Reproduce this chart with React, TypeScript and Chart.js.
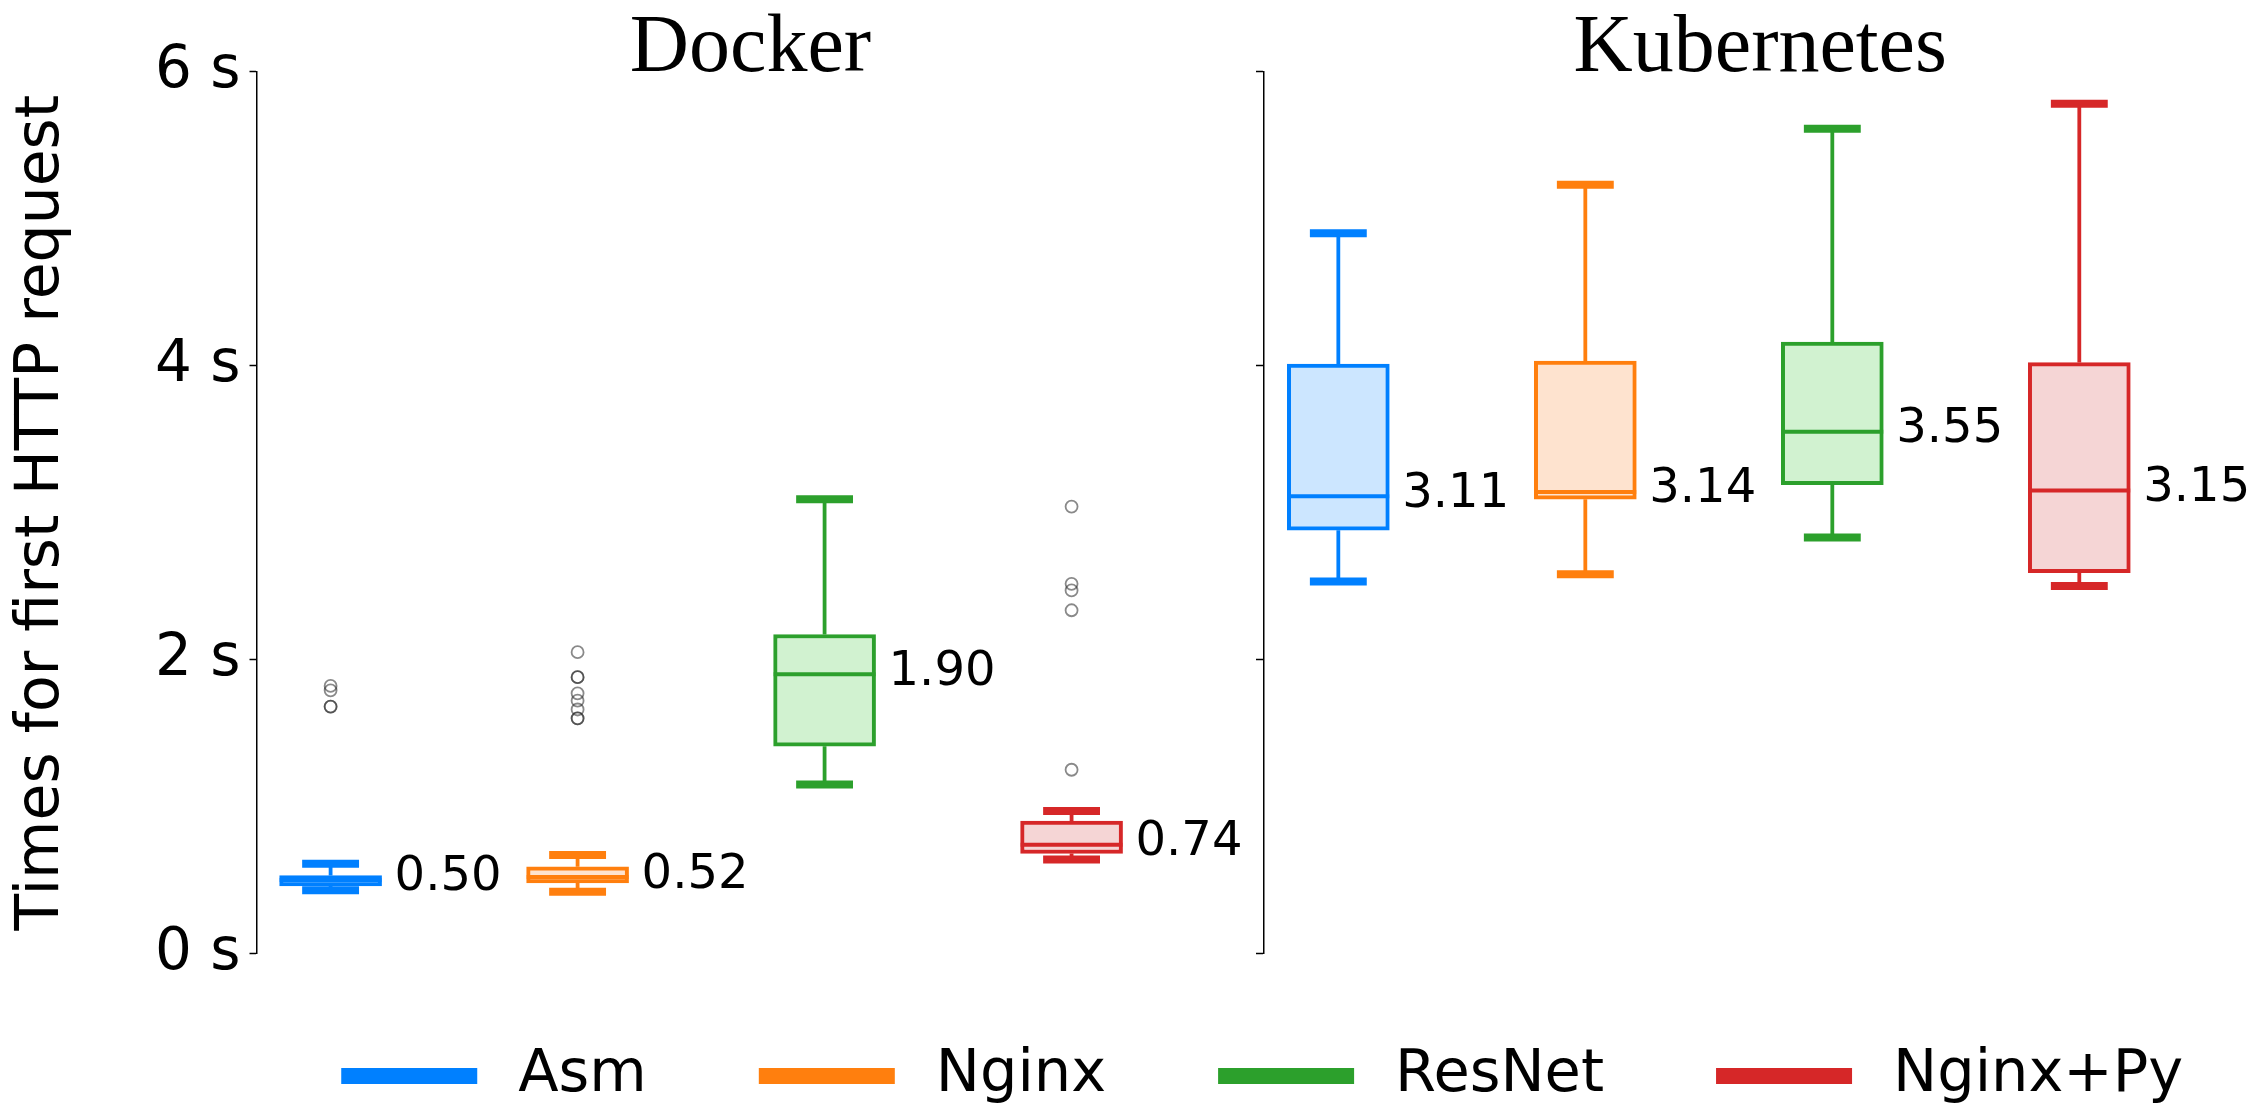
import React, { useEffect, useRef } from 'react';
import { Chart, registerables } from 'chart.js';

Chart.register(...registerables);

// ---------------- data ----------------
const categories = ['Asm', 'Nginx', 'ResNet', 'Nginx+Py'];
const panelTitles = ['Docker', 'Kubernetes'];
const seriesColors = ['#0080ff', '#ff7f0e', '#2ca02c', '#d62728'];
const fillColors = ['#cce6ff', '#fee3cf', '#d1f2d0', '#f5d5d5'];

const dockerMin = [0.43, 0.42, 1.15, 0.64];
const dockerQ1 = [0.46, 0.48, 1.41, 0.68];
const dockerMedian = [0.5, 0.52, 1.9, 0.74];
const dockerQ3 = [0.53, 0.59, 2.17, 0.9];
const dockerMax = [0.61, 0.67, 3.09, 0.97];
const dockerOutliers = [
  [1.82, 1.79, 1.68, 1.68],
  [2.05, 1.88, 1.88, 1.77, 1.72, 1.66, 1.6, 1.6],
  [],
  [3.04, 2.515, 2.47, 2.335, 1.25],
];

const kubeMin = [2.53, 2.58, 2.83, 2.5];
const kubeQ1 = [2.88, 3.09, 3.19, 2.59];
const kubeMedian = [3.11, 3.14, 3.55, 3.15];
const kubeQ3 = [4.01, 4.03, 4.16, 4.02];
const kubeMax = [4.9, 5.23, 5.61, 5.78];

const yTickValues = [0, 2, 4, 6];
const yTickUnit = ' s';
const yTitle = 'Times for first HTTP request';

// ---------------- layout constants ----------------
const W = 2260;
const H = 1115;
const AREA_LEFT = 256.5;
const PAD_RIGHT = 4;
const PAD_TOP = 71.5;
const PAD_BOTTOM = 161.5;
const X_MIN = -0.3;
const KUBE_AXIS = 3.78;
const KUBE_OFFSET = 4.08;
const X_MAX = 7.78;
const PX_PER_UNIT = (W - PAD_RIGHT - AREA_LEFT) / (X_MAX - X_MIN);
const BOX_PX = 102;
const CAP_PX = 57;
const BOX_HALF = BOX_PX / 2 / PX_PER_UNIT;
const CAP_HALF = CAP_PX / 2 / PX_PER_UNIT;

const SANS = '"DejaVu Sans", "Noto Sans", sans-serif';
const SERIF = '"Liberation Serif", "DejaVu Serif", serif';

const panels = [
  { offset: 0, min: dockerMin, q1: dockerQ1, med: dockerMedian, q3: dockerQ3, max: dockerMax },
  { offset: KUBE_OFFSET, min: kubeMin, q1: kubeQ1, med: kubeMedian, q3: kubeQ3, max: kubeMax },
];

function buildDatasets() {
  const ds: any[] = [];
  categories.forEach((name, i) => {
    const color = seriesColors[i];
    const boxes: any[] = [];
    const whiskers: any[] = [];
    const caps: any[] = [];
    const medians: any[] = [];
    panels.forEach((p) => {
      const x = i + p.offset;
      boxes.push({ x, y: [p.q1[i], p.q3[i]] });
      whiskers.push({ x, y: p.q3[i] }, { x, y: p.max[i] }, { x, y: null });
      whiskers.push({ x, y: p.q1[i] }, { x, y: p.min[i] }, { x, y: null });
      caps.push({ x: x - CAP_HALF, y: p.max[i] }, { x: x + CAP_HALF, y: p.max[i] }, { x, y: null });
      caps.push({ x: x - CAP_HALF, y: p.min[i] }, { x: x + CAP_HALF, y: p.min[i] }, { x, y: null });
      medians.push({ x: x - BOX_HALF, y: p.med[i] }, { x: x + BOX_HALF, y: p.med[i] }, { x, y: null });
    });
    ds.push({
      type: 'line',
      label: name + ' whiskers',
      data: whiskers,
      borderColor: color,
      borderWidth: 3.8,
      pointRadius: 0,
      spanGaps: false,
      order: 5,
    });
    ds.push({
      type: 'line',
      label: name + ' caps',
      data: caps,
      borderColor: color,
      borderWidth: 8,
      borderCapStyle: 'butt',
      pointRadius: 0,
      spanGaps: false,
      order: 4,
    });
    ds.push({
      type: 'bar',
      label: name,
      data: boxes,
      backgroundColor: fillColors[i],
      borderColor: color,
      borderWidth: 4,
      borderSkipped: false,
      barThickness: BOX_PX,
      grouped: false,
      order: 3,
    });
    ds.push({
      type: 'line',
      label: name + ' median',
      data: medians,
      borderColor: color,
      borderWidth: 4,
      borderCapStyle: 'butt',
      pointRadius: 0,
      spanGaps: false,
      order: 2,
    });
    ds.push({
      type: 'scatter',
      label: name + ' outliers',
      data: dockerOutliers[i].map((v) => ({ x: i, y: v })),
      pointStyle: 'circle',
      pointRadius: 6,
      pointBorderWidth: 1.8,
      pointBorderColor: 'rgba(40,40,40,0.55)',
      pointBackgroundColor: 'rgba(0,0,0,0)',
      showLine: false,
      order: 1,
    });
  });
  return ds;
}

const annotationsPlugin = {
  id: 'boxAnnotations',
  afterDraw(chart: any) {
    const { ctx, chartArea } = chart;
    const xs = chart.scales.x;
    const ys = chart.scales.y;
    ctx.save();
    // median labels
    ctx.font = `48px ${SANS}`;
    ctx.fillStyle = '#000';
    ctx.textAlign = 'left';
    ctx.textBaseline = 'middle';
    categories.forEach((_, i) => {
      panels.forEach((p) => {
        const px = xs.getPixelForValue(i + p.offset) + BOX_PX / 2 + 13;
        const py = ys.getPixelForValue(p.med[i]) - 2;
        ctx.fillText(p.med[i].toFixed(2), px, py);
      });
    });
    // panel titles
    ctx.font = `82px ${SERIF}`;
    ctx.textAlign = 'center';
    ctx.textBaseline = 'alphabetic';
    const dockerCenter = (xs.getPixelForValue(X_MIN) + xs.getPixelForValue(X_MIN + 4)) / 2;
    const kubeCenter = (xs.getPixelForValue(KUBE_AXIS) + xs.getPixelForValue(KUBE_AXIS + 4)) / 2;
    ctx.fillText(panelTitles[0], dockerCenter, chartArea.top - 1);
    ctx.fillText(panelTitles[1], kubeCenter + 2, chartArea.top - 1);
    // legend
    ctx.font = `59px ${SANS}`;
    ctx.textAlign = 'left';
    ctx.textBaseline = 'middle';
    const LINE_W = 136;
    const LINE_H = 16;
    const GAP_TEXT = 41;
    const GAP_ITEM = 112;
    const widths = categories.map((c) => ctx.measureText(c).width);
    const total = widths.reduce((a, w) => a + LINE_W + GAP_TEXT + w, 0) + GAP_ITEM * (categories.length - 1);
    const center = (chartArea.left + W) / 2 + 4;
    const cy = chartArea.bottom + 122.5;
    let cx = center - total / 2;
    categories.forEach((c, i) => {
      ctx.fillStyle = seriesColors[i];
      ctx.fillRect(cx, cy - LINE_H / 2, LINE_W, LINE_H);
      ctx.fillStyle = '#000';
      ctx.fillText(c, cx + LINE_W + GAP_TEXT, cy);
      cx += LINE_W + GAP_TEXT + widths[i] + GAP_ITEM;
    });
    ctx.restore();
  },
};

const axisGrid = {
  display: true,
  drawOnChartArea: false,
  drawTicks: true,
  tickLength: 7,
  tickWidth: 1.5,
  tickColor: '#000',
  color: '#000',
};
const axisBorder = { display: true, color: '#000', width: 1.5 };

export default function App() {
  const canvasRef = useRef<HTMLCanvasElement | null>(null);

  useEffect(() => {
    if (!canvasRef.current) return;
    Chart.defaults.color = '#000';
    const chart = new Chart(canvasRef.current, {
      type: 'bar',
      data: { datasets: buildDatasets() },
      options: {
        responsive: false,
        animation: false,
        events: [],
        layout: { padding: { top: PAD_TOP, right: PAD_RIGHT, bottom: PAD_BOTTOM, left: 0 } },
        plugins: {
          legend: { display: false },
          tooltip: { enabled: false },
          title: { display: false },
        },
        scales: {
          x: {
            type: 'linear',
            min: X_MIN,
            max: X_MAX,
            offset: false,
            display: false,
          },
          y: {
            type: 'linear',
            position: 'left',
            min: yTickValues[0],
            max: yTickValues[yTickValues.length - 1],
            afterFit: (s: any) => {
              s.width = AREA_LEFT;
            },
            afterBuildTicks: (s: any) => {
              s.ticks = yTickValues.map((v) => ({ value: v }));
            },
            ticks: {
              padding: 9,
              color: '#000',
              font: { size: 58, family: SANS },
              callback: (v: any) => `${v}${yTickUnit}`,
            },
            grid: axisGrid,
            border: axisBorder,
            title: {
              display: true,
              text: yTitle,
              color: '#000',
              font: { size: 60, family: SANS },
              padding: { top: 6, bottom: 0 },
            },
          },
          y2: {
            type: 'linear',
            position: { x: KUBE_AXIS },
            min: yTickValues[0],
            max: yTickValues[yTickValues.length - 1],
            afterBuildTicks: (s: any) => {
              s.ticks = yTickValues.map((v) => ({ value: v }));
            },
            ticks: {
              padding: 0,
              font: { size: 10, family: SANS },
              callback: () => '',
            },
            grid: axisGrid,
            border: axisBorder,
          },
        },
      } as any,
      plugins: [annotationsPlugin],
    });
    return () => chart.destroy();
  }, []);

  return (
    <div style={{ position: 'fixed', left: 0, top: 0, width: W, height: H, background: '#fff' }}>
      <canvas ref={canvasRef} width={W} height={H} style={{ display: 'block' }} />
    </div>
  );
}
